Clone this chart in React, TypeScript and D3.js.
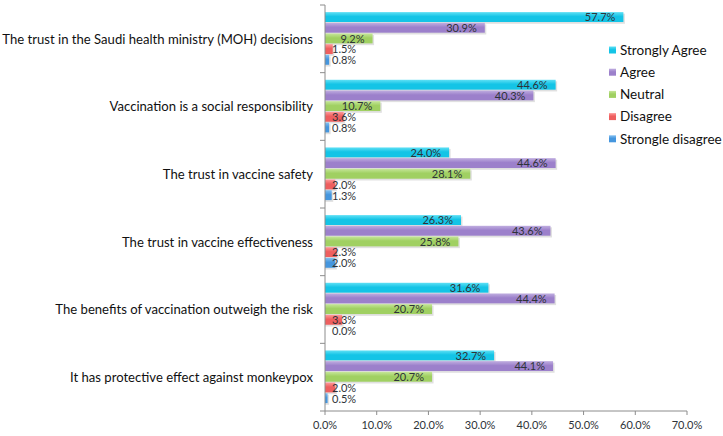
import { useEffect, useRef } from "react";
import * as d3 from "d3";

const categories = [
  "The trust in the Saudi health ministry (MOH) decisions",
  "Vaccination is a social responsibility",
  "The trust in vaccine safety",
  "The trust in vaccine effectiveness",
  "The benefits of vaccination outweigh the risk",
  "It has protective effect against monkeypox",
];

const seriesNames = ["Strongly Agree", "Agree", "Neutral", "Disagree", "Strongle disagree"];

const stronglyAgree = [57.7, 44.6, 24.0, 26.3, 31.6, 32.7];
const agree = [30.9, 40.3, 44.6, 43.6, 44.4, 44.1];
const neutral = [9.2, 10.7, 28.1, 25.8, 20.7, 20.7];
const disagree = [1.5, 3.6, 2.0, 2.3, 3.3, 2.0];
const stronglyDisagree = [0.8, 0.8, 1.3, 2.0, 0.0, 0.5];

const xTicks = [0, 10, 20, 30, 40, 50, 60, 70];

const COLORS = [
  { top: "#5fe0f5", base: "#14c4e6" },
  { top: "#c0aee0", base: "#9c80cb" },
  { top: "#c6e69a", base: "#a0d062" },
  { top: "#ff9a9a", base: "#ee5f5f" },
  { top: "#85c0f0", base: "#4596de" },
];

const FONT = "Lato, 'Open Sans', sans-serif";

const App = () => {
  const svgRef = useRef<SVGSVGElement>(null);

  useEffect(() => {
    if (!svgRef.current) return;
    const width = 723;
    const height = 436;
    const margin = { top: 5, right: 36, bottom: 25, left: 325 };

    const values = [stronglyAgree, agree, neutral, disagree, stronglyDisagree];

    const svg = d3.select(svgRef.current);
    svg.selectAll("*").remove();
    svg.attr("width", width).attr("height", height);

    const defs = svg.append("defs");
    COLORS.forEach((c, i) => {
      const g = defs
        .append("linearGradient")
        .attr("id", `grad${i}`)
        .attr("x1", 0)
        .attr("y1", 0)
        .attr("x2", 0)
        .attr("y2", 1);
      g.append("stop").attr("offset", "0%").attr("stop-color", c.top);
      g.append("stop").attr("offset", "45%").attr("stop-color", c.base);
      g.append("stop").attr("offset", "100%").attr("stop-color", c.base);
    });

    const x = d3
      .scaleLinear()
      .domain([0, 70])
      .range([margin.left, width - margin.right]);

    const y = d3
      .scaleBand()
      .domain(categories)
      .range([margin.top, height - margin.bottom])
      .paddingInner(0.21)
      .paddingOuter(0.105);

    const ySub = d3
      .scaleBand<number>()
      .domain(d3.range(seriesNames.length))
      .range([0, y.bandwidth()]);

    const step = y.step();
    const y0 = margin.top;

    // Bars
    categories.forEach((cat, ci) => {
      const g = svg.append("g").attr("transform", `translate(0,${y(cat)})`);
      values.forEach((arr, si) => {
        const v = arr[ci];
        const by = ySub(si)!;
        const bh = ySub.bandwidth();
        const bw = x(v) - x(0);
        if (bw > 0) {
          // shadow
          g.append("rect")
            .attr("x", x(0))
            .attr("y", by + 1.5)
            .attr("width", bw + 1.5)
            .attr("height", bh - 0.5)
            .attr("fill", "#000")
            .attr("opacity", 0.12);
          g.append("rect")
            .attr("x", x(0))
            .attr("y", by)
            .attr("width", bw)
            .attr("height", bh - 0.8)
            .attr("fill", `url(#grad${si})`);
        }
        const label = `${v.toFixed(1)}%`;
        const tw = label.length * 5.6;
        const endX = x(v) - 8;
        const inside = endX - tw >= x(0) + 7;
        g.append("text")
          .attr("x", inside ? endX : x(0) + 7)
          .attr("y", by + bh / 2)
          .attr("dy", "0.36em")
          .attr("text-anchor", inside ? "end" : "start")
          .attr("font-family", FONT)
          .attr("font-size", "11px")
          .attr("fill", "#2e3338")
          .text(label);
      });
    });

    // Y axis
    const axisColor = "#8c8c8c";
    svg
      .append("line")
      .attr("x1", x(0))
      .attr("x2", x(0))
      .attr("y1", y0)
      .attr("y2", height - margin.bottom)
      .attr("stroke", axisColor);
    d3.range(categories.length + 1).forEach((i) => {
      svg
        .append("line")
        .attr("x1", x(0) - 5)
        .attr("x2", x(0))
        .attr("y1", y0 + i * step)
        .attr("y2", y0 + i * step)
        .attr("stroke", axisColor);
    });
    categories.forEach((cat) => {
      svg
        .append("text")
        .attr("x", x(0) - 12)
        .attr("y", y(cat)! + y.bandwidth() / 2)
        .attr("dy", "0.36em")
        .attr("text-anchor", "end")
        .attr("font-family", FONT)
        .attr("font-size", "13.1px")
        .attr("fill", "#111")
        .text(cat);
    });

    // X axis
    const xAxisY = height - margin.bottom;
    svg
      .append("line")
      .attr("x1", x(0))
      .attr("x2", x(70))
      .attr("y1", xAxisY)
      .attr("y2", xAxisY)
      .attr("stroke", axisColor);
    xTicks.forEach((t) => {
      svg
        .append("line")
        .attr("x1", x(t))
        .attr("x2", x(t))
        .attr("y1", xAxisY)
        .attr("y2", xAxisY + 4)
        .attr("stroke", axisColor);
      svg
        .append("text")
        .attr("x", x(t))
        .attr("y", xAxisY + 14)
        .attr("dy", "0.36em")
        .attr("text-anchor", "middle")
        .attr("font-family", FONT)
        .attr("font-size", "11px")
        .attr("fill", "#2e3338")
        .text(`${t.toFixed(1)}%`);
    });

    // Legend
    const legend = svg.append("g").attr("transform", "translate(609,50)");
    seriesNames.forEach((name, i) => {
      const g = legend.append("g").attr("transform", `translate(0,${i * 22.2})`);
      g.append("rect")
        .attr("x", 0)
        .attr("y", -3.5)
        .attr("width", 7)
        .attr("height", 7)
        .attr("fill", `url(#grad${i})`);
      g.append("text")
        .attr("x", 11)
        .attr("y", 0)
        .attr("dy", "0.36em")
        .attr("font-family", FONT)
        .attr("font-size", "13.5px")
        .attr("fill", "#111")
        .text(name);
    });
  }, []);

  return (
    <svg
      ref={svgRef}
      style={{ position: "absolute", left: 0, top: 0, display: "block", background: "#fff" }}
    />
  );
};

export default App;
